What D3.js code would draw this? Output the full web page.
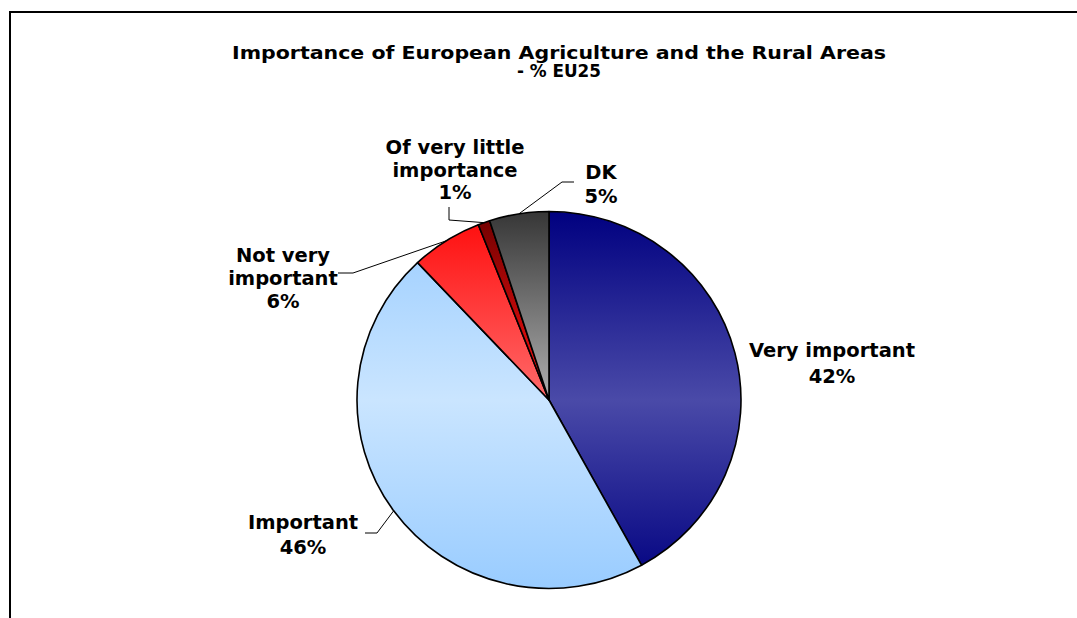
<!DOCTYPE html>
<html>
<head>
<meta charset="utf-8">
<script src="https://cdn.jsdelivr.net/npm/d3@7"></script>
<style>
  html, body { margin: 0; padding: 0; background: #fff; }
  svg { display: block; }
  text { font-family: "DejaVu Sans", Verdana, sans-serif; font-weight: bold; fill: #000; }
</style>
</head>
<body>
<svg id="chart" width="1077" height="618"></svg>
<script>
// Survey answers, EU25 (percent)
const categories = ["Very important", "Important", "Not very important", "Of very little importance", "DK"];
const values = [42, 46, 6, 1, 5];
const labelLines = [["Very important"], ["Important"], ["Not very", "important"], ["Of very little", "importance"], ["DK"]];
const titleLines = ["Importance of European Agriculture and the Rural Areas", "- % EU25"];

// Slice fills: edge tone and centre tone of the vertical gradient
const darkTones = ["#000080", "#99ccff", "#ff0a0a", "#6e0000", "#363636"];
const lightTones = ["#4a4aa8", "#cae5ff", "#ff6a6a", "#ff1010", "#b0b0b0"];

const svg = d3.select("#chart");
const W = 1077, H = 618;
const cx = 549, cy = 400, rx = 192, ry = 188.5;

// Frame
svg.append("rect")
  .attr("x", 10).attr("y", 12)
  .attr("width", W + 40).attr("height", H + 40)
  .attr("fill", "none").attr("stroke", "#000").attr("stroke-width", 2);

// Title lines, each fitted to its own width
const titleX = 559;
const titleWidths = [654, 84];
titleLines.forEach((t, i) => {
  svg.append("text")
    .attr("text-anchor", "middle")
    .attr("x", titleX)
    .attr("y", 59 + i * 18)
    .style("font-size", "17.5px")
    .attr("textLength", titleWidths[i])
    .attr("lengthAdjust", "spacingAndGlyphs")
    .text(t);
});

const defs = svg.append("defs");
categories.forEach((c, i) => {
  const g = defs.append("linearGradient")
    .attr("id", "grad" + i)
    .attr("gradientUnits", "userSpaceOnUse")
    .attr("x1", 0).attr("x2", 0)
    .attr("y1", -rx).attr("y2", rx);
  g.append("stop").attr("offset", 0).attr("stop-color", darkTones[i]);
  g.append("stop").attr("offset", 0.5).attr("stop-color", lightTones[i]);
  g.append("stop").attr("offset", 1).attr("stop-color", darkTones[i]);
});

const pie = d3.pie().sort(null).value(d => d)(values);
const arc = d3.arc().innerRadius(0).outerRadius(rx);

const pieG = svg.append("g")
  .attr("transform", `translate(${cx},${cy}) scale(1,${ry / rx})`);

pieG.selectAll("path.slice")
  .data(pie)
  .join("path")
  .attr("class", "slice")
  .attr("d", arc)
  .attr("fill", (d, i) => `url(#grad${i})`)
  .attr("stroke", "#000")
  .attr("stroke-width", 1.6)
  .attr("vector-effect", "non-scaling-stroke")
  .attr("stroke-linejoin", "round");

// Point on the rim at the middle of a slice
function rimPoint(d) {
  const a = (d.startAngle + d.endAngle) / 2;
  return [cx + rx * Math.sin(a), cy - ry * Math.cos(a)];
}

// Label layout: text centre (x), first baseline (y), and leader elbow points
const labelLayout = [
  { x: 832, y: 357, gap: 26, leader: null },
  { x: 303, y: 529, gap: 24.5, leader: [[365, 533], [377, 533]] },
  { x: 283, y: 262, gap: 23, leader: [[338, 273], [353, 273]] },
  { x: 455, y: 154, gap: 22.5, leader: [[449, 207], [449, 220]] },
  { x: 601, y: 179, gap: 24, leader: [[574, 182], [562, 182]] }
];
const fontSize = 19.5;

pie.forEach((d, i) => {
  const L = labelLayout[i];
  if (L.leader) {
    const pts = L.leader.concat([rimPoint(d)]);
    svg.append("path")
      .attr("d", d3.line()(pts))
      .attr("fill", "none")
      .attr("stroke", "#000")
      .attr("stroke-width", 1);
  }
  const t = svg.append("text")
    .attr("text-anchor", "middle")
    .style("font-size", fontSize + "px");
  const lines = labelLines[i].concat([values[i] + "%"]);
  lines.forEach((s, k) => {
    t.append("tspan").attr("x", L.x).attr("y", L.y + k * L.gap).text(s);
  });
});
</script>
</body>
</html>
